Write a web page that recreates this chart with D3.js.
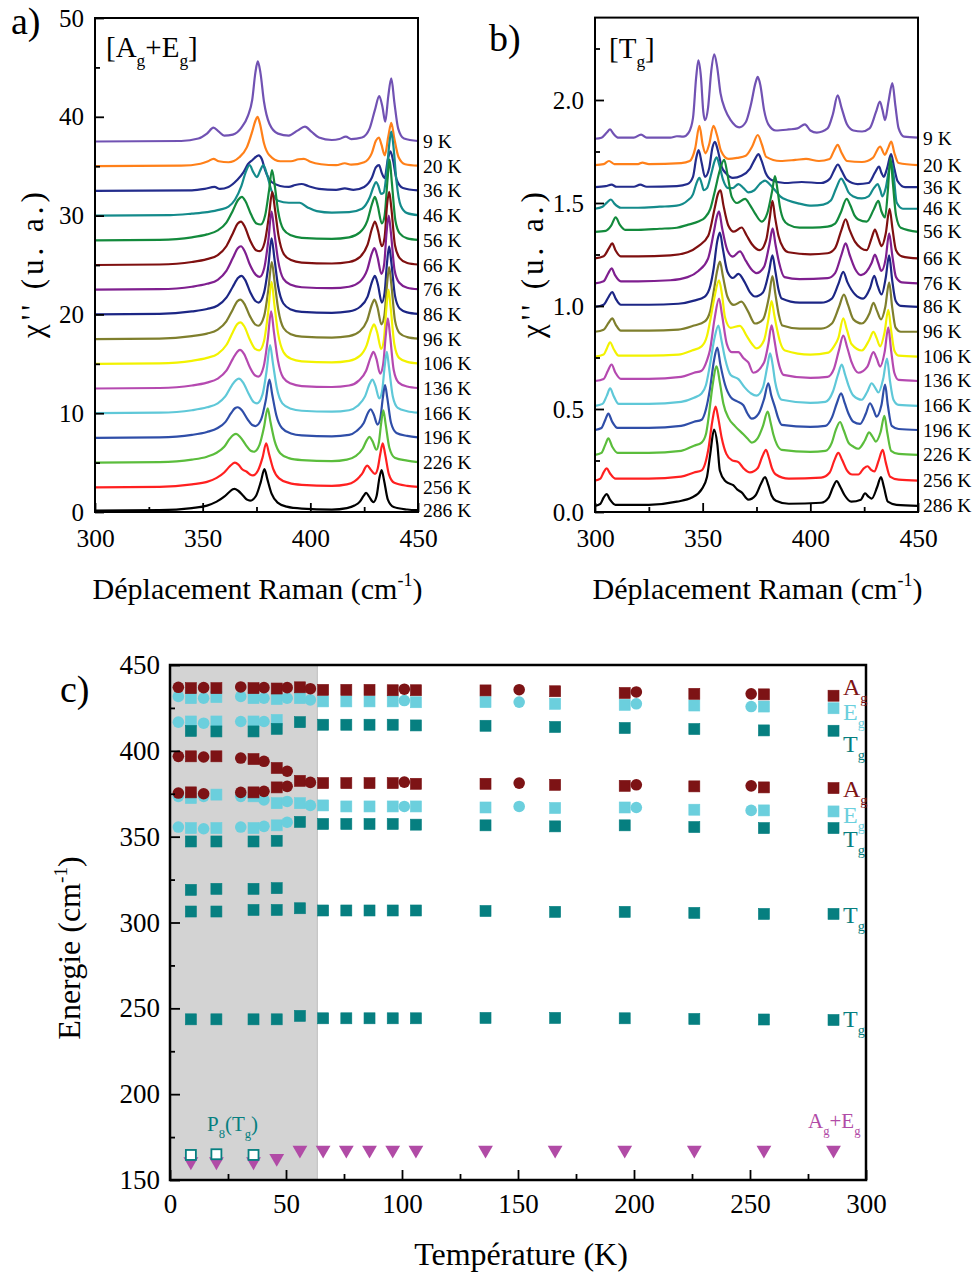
<!DOCTYPE html>
<html><head><meta charset="utf-8">
<script src="https://cdn.jsdelivr.net/npm/d3@7"></script>
<style>body{margin:0;background:#fff}svg{display:block}text{font-family:"Liberation Serif","Times New Roman",serif}</style>
</head><body><svg id="c" width="977" height="1277"></svg>
<script>
// ---------------- DATA ----------------
const tempLabels = ["9 K","20 K","36 K","46 K","56 K","66 K","76 K","86 K","96 K","106 K","136 K","166 K","196 K","226 K","256 K","286 K"];
const curveColors = ["#7152b3","#ff8019","#232c8c","#148b8b","#138a3c","#7f1010","#7f1f8f","#1c2685","#7f7f2d","#f2f200","#b549b0","#5fc8d8","#2f4ea8","#5bbd3c","#ff2020","#000000"];
const offsetsA = [37.5,35,32.5,30,27.5,25,22.5,20,17.5,15,12.5,10,7.5,5,2.5,0.15];
const offsetsB = [1.812,1.684,1.577,1.472,1.36,1.231,1.110,0.996,0.875,0.754,0.636,0.515,0.398,0.277,0.152,0.03];
// spectra: flat lists of (Raman shift, intensity above the curve's offset)
const spectraA = [
[300,0,340,0.05,348,0.3,352,0.8,355,1.4,357.5,1.0,360,0.6,364,0.7,368,1.4,371,2.6,373,4.2,374.5,7.0,375.6,8.1,376.8,7.0,378.5,4.0,381,1.8,385,0.8,390,0.6,394,1.1,397.5,1.5,400.5,1.0,404,0.4,410,0.15,413.5,0.25,416.5,0.5,419,0.25,424,0.4,427.5,1.3,430,3.2,432,4.6,433.5,3.5,434.8,2.0,436.2,4.6,437.6,6.4,439,4.0,440.8,1.3,443.5,0.3,450,0.05],
[300,0,340,0.05,349,0.25,352.5,0.5,355,0.75,357.5,0.5,362,0.4,367,0.9,370.5,1.9,373,3.5,374.5,4.6,375.5,5.0,376.6,4.3,378.5,2.3,381,1.1,386,0.5,391,0.5,394.5,0.7,397,0.75,400,0.45,405,0.2,412,0.1,416,0.3,419,0.15,425,0.4,428.5,1.3,430.5,2.6,431.8,2.9,433,2.2,434.6,1.1,436.2,3.0,437.6,4.4,439,2.8,441,0.9,444,0.2,450,0.05],
[300,0,345,0.05,351,0.2,355.5,0.4,358,0.2,362,0.4,366,1.1,369,1.9,371,2.7,373,3.1,376,3.6,377.5,3.2,379,2.1,382,0.9,386,0.5,390,0.4,393,0.6,396,0.7,399,0.5,404,0.2,412,0.1,416,0.25,420,0.1,425,0.4,428.5,1.3,430.5,2.4,431.9,2.6,433.2,1.8,434.5,1.3,436,3.2,437.2,4.0,438.5,3.0,440,1.2,443,0.3,450,0.05],
[300,0,335,0.05,345,0.2,352,0.35,358,0.6,362,0.9,365,1.6,368,3.0,370,4.4,371.8,5.1,373.5,4.4,375.2,3.9,376.8,4.6,378.2,5.1,379.8,4.2,382,2.5,385,1.5,390,1.3,395,1.3,399,0.8,403,0.45,410,0.3,418,0.35,424,0.7,427.5,1.8,429.5,3.0,430.5,3.4,431.6,3.0,432.8,2.2,434,2.3,435.5,4.5,436.8,7.5,437.6,8.5,438.6,7.0,440,3.5,442,1.0,445,0.25,450,0.05],
[300,0,330,0.05,345,0.3,352,0.6,357,1.0,361,1.8,364,3.0,366.5,4.1,368.2,4.4,370,3.9,372.5,2.6,375,1.7,377,1.6,379,2.5,380.8,5.0,382.2,7.1,383.5,5.5,385,3.0,387.5,1.1,391,0.5,396,0.25,410,0.15,418,0.3,423,0.8,426.5,2.0,428.8,3.8,430,4.4,431.3,3.5,433.2,1.7,434.5,2.5,435.8,6.0,436.8,8.2,437.8,6.0,439.5,2.0,441.5,0.7,445,0.2,450,0.05],
[300,0,330,0.05,345,0.3,352,0.6,357,1.0,361,1.9,364,3.2,366.3,4.2,367.8,4.4,369.5,3.9,372,2.5,374.8,1.5,376.6,1.4,378.8,2.3,380.8,5.0,382.3,7.4,383.6,5.6,385.2,3.0,387.7,1.1,391,0.5,396,0.25,410,0.15,418,0.3,423,0.8,426.5,2.0,428.8,3.8,430,4.4,431.4,3.5,433.2,1.9,434.5,2.8,435.6,6.0,436.6,7.4,437.6,5.8,439.3,2.0,441.5,0.7,445,0.2,450,0.05],
[300,0,330,0.05,345,0.3,352,0.6,357,1.0,361,1.9,364,3.2,366.3,4.2,367.8,4.4,369.5,3.9,372,2.5,374.7,1.5,376.5,1.3,378.6,2.2,380.5,5.0,382,7.9,383.3,5.8,385,3.0,387.5,1.1,391,0.5,396,0.25,410,0.15,418,0.3,423,0.8,426.4,2.0,428.6,3.7,429.8,4.2,431.2,3.3,433,1.6,434.3,2.6,435.4,5.8,436.4,7.5,437.4,5.8,439.1,2.0,441.3,0.7,445,0.2,450,0.05],
[300,0,330,0.05,345,0.3,352,0.55,357,0.9,361,1.7,364,2.8,366.5,3.7,368,3.9,369.7,3.5,372.2,2.2,374.5,1.35,376,1.2,378.5,2.2,380.5,4.9,382,7.7,383.3,5.7,385,2.9,387.5,1.1,391,0.5,396,0.25,410,0.15,418,0.3,423,0.75,426.6,1.8,428.8,3.4,430,3.9,431.4,3.0,433.2,1.2,434.5,2.2,435.6,5.2,436.6,6.9,437.6,5.3,439.3,1.9,441.5,0.6,445,0.2,450,0.05],
[300,0,330,0.05,345,0.3,352,0.55,357,0.95,361,1.8,364,3.0,366,3.8,367.5,4.0,369.3,3.6,372,2.3,374.3,1.5,375.9,1.35,378.5,2.3,380.5,5.0,382.1,7.8,383.4,5.8,385.1,3.0,387.6,1.1,391,0.5,396,0.25,410,0.15,418,0.3,423,0.8,426.4,1.9,428.6,3.5,429.8,4.0,431.2,3.2,433,1.5,434.4,2.4,435.6,5.5,436.6,7.3,437.6,5.6,439.3,1.9,441.5,0.6,445,0.2,450,0.05],
[300,0,330,0.05,345,0.3,352,0.6,357,1.0,361,1.9,364,3.2,366,4.0,367.5,4.2,369.3,3.8,372,2.4,374.4,1.5,376.3,1.35,378.5,2.3,380.4,5.2,382,8.3,383.3,6.0,385,3.1,387.5,1.2,391,0.5,396,0.25,410,0.15,418,0.3,423,0.8,426.2,1.9,428.4,3.5,429.6,4.0,431,3.2,432.9,1.5,434.2,2.5,435.3,5.6,436.3,7.5,437.3,5.7,439,2.0,441.2,0.6,445,0.2,450,0.05],
[300,0,330,0.05,345,0.3,352,0.6,357,1.0,361,1.8,364,3.0,366,3.7,367.3,3.9,369.2,3.5,371.8,2.2,374.2,1.35,375.9,1.2,378.3,2.2,380.2,4.9,381.8,7.8,383.1,5.7,384.9,2.9,387.4,1.1,391,0.5,396,0.25,410,0.15,418,0.3,422.5,0.8,425.9,1.8,428.1,3.2,429.3,3.7,430.7,3.0,432.4,1.5,433.8,2.4,435,5.3,436,7.1,437,5.4,438.7,1.9,441,0.6,445,0.2,450,0.05],
[300,0,330,0.05,345,0.3,352,0.6,357,1.0,360.5,1.7,363.5,2.8,365.5,3.35,366.8,3.5,368.8,3.1,371.3,2.0,373.6,1.15,375.3,1.0,377.8,1.9,379.7,4.3,381.3,6.9,382.6,5.1,384.4,2.6,387,1.0,391,0.45,396,0.25,410,0.15,418,0.3,422,0.75,425.4,1.7,427.6,3.0,428.8,3.4,430.2,2.8,432,1.5,433.3,2.2,434.5,4.7,435.5,6.2,436.5,4.7,438.3,1.7,440.6,0.55,445,0.2,450,0.05],
[300,0,330,0.05,345,0.3,352,0.6,357,1.0,360.5,1.6,363.2,2.5,365,3.0,366.3,3.1,368.2,2.8,370.8,1.9,373,1.3,374.5,1.2,377.2,1.9,379.3,3.8,381,5.9,382.3,4.4,384.2,2.3,386.8,1.0,391,0.45,396,0.25,410,0.15,418,0.3,421.5,0.7,424.8,1.5,426.9,2.6,428,2.9,429.4,2.4,431.2,1.35,432.5,2.0,433.7,4.1,434.7,5.35,435.7,4.1,437.5,1.5,440,0.5,445,0.2,450,0.05],
[300,0,330,0.05,345,0.3,352,0.6,356.5,1.0,360,1.6,362.5,2.4,364.3,2.8,365.5,2.9,367.4,2.6,370,1.8,372.3,1.2,373.8,1.1,376.4,1.8,378.5,3.6,380.2,5.5,381.5,4.1,383.4,2.2,386,0.95,390,0.45,396,0.25,410,0.15,417,0.3,421,0.65,424.3,1.4,426.3,2.3,427.4,2.6,428.8,2.2,430.7,1.3,431.8,2.0,432.9,4.0,433.9,5.3,434.9,4.0,436.7,1.5,439.2,0.5,445,0.2,450,0.05],
[300,0,330,0.05,345,0.3,352,0.55,356.5,0.95,360,1.5,362.5,2.1,364,2.4,365,2.5,366.6,2.3,368.5,1.8,370.3,1.6,372,1.3,373.3,1.2,375.7,1.7,377.8,3.0,379.5,4.45,380.8,3.4,382.7,1.9,385.5,0.9,390,0.45,396,0.25,410,0.15,417,0.3,420.5,0.6,423,1.1,424.4,1.5,425.5,2.0,426.5,2.2,428,1.8,430,1.35,431.3,1.9,432.5,3.4,433.6,4.45,434.7,3.4,436.5,1.3,439,0.45,445,0.15,450,0.05],
[300,0,330,0.03,345,0.25,352,0.5,356.5,0.9,360,1.4,362.5,1.9,364,2.15,364.8,2.2,366.5,2.0,368.8,1.5,370.6,1.1,372,1.0,374.8,1.5,377,2.9,378.7,4.2,380,3.2,382,1.7,384.8,0.8,389,0.4,396,0.2,410,0.1,417,0.25,420.5,0.5,423,0.9,424.8,1.5,425.9,1.8,427.3,1.4,429.3,0.85,430.8,1.5,432,3.2,433.1,4.1,434.2,3.1,436,1.1,438.7,0.35,445,0.1,450,0.03]
];
const spectraB = [
[300,0,303,0.005,305.5,0.03,307,0.045,308.5,0.025,311,0.005,318,0.005,321.4,0.02,324,0.005,335,0.005,338,0.012,341,0.01,343.5,0.03,345.5,0.1,347,0.3,348,0.38,349.2,0.3,350.3,0.13,351.1,0.09,352.5,0.15,354,0.33,355.4,0.41,356.7,0.35,358.3,0.22,360.5,0.14,363,0.09,367,0.055,370,0.08,372.5,0.17,374.5,0.27,375.6,0.3,376.8,0.26,378.5,0.14,380.5,0.07,384,0.04,390,0.045,394,0.05,397.5,0.07,400,0.04,403,0.03,408,0.05,410.5,0.12,412.7,0.21,414.5,0.15,417,0.07,420,0.04,424,0.035,427.5,0.05,430.5,0.13,432.3,0.18,433.5,0.14,434.7,0.09,436.3,0.18,438.1,0.27,439.5,0.16,441,0.05,443.5,0.01,450,0.005],
[300,0,304,0.005,306.5,0.02,309,0.005,320,0.005,322,0.012,325,0.005,340,0.01,344,0.02,346.5,0.08,348.5,0.19,350,0.1,351.3,0.057,353,0.1,355,0.19,356.8,0.14,358.5,0.07,362,0.03,366,0.035,370,0.045,373,0.09,375.6,0.146,377.5,0.1,379.5,0.04,386,0.02,393,0.025,398,0.03,404,0.02,409,0.03,411,0.07,412.7,0.098,414.5,0.06,417,0.02,424,0.015,429,0.035,432.4,0.09,434.6,0.05,436,0.08,437.6,0.114,439,0.06,441,0.01,450,0],
[300,0,305,0.005,307.7,0.012,310,0.002,318,0.002,321,0.012,324,0.002,338,0.005,343,0.015,345.5,0.05,347,0.14,348.1,0.18,349.5,0.12,351.1,0.05,353,0.09,354.5,0.19,355.7,0.22,357,0.18,358.8,0.1,361,0.065,364,0.045,368,0.055,372,0.09,374.5,0.14,375.9,0.16,377.3,0.13,379.2,0.07,382,0.035,388,0.02,396,0.025,405,0.02,409,0.04,411,0.08,412.8,0.11,414.5,0.08,417,0.035,422,0.015,427,0.02,430,0.07,431.9,0.1,433,0.07,434.1,0.05,435.6,0.09,437.5,0.16,439,0.09,440.5,0.03,444,0,450,0],
[300,0,303.5,0.01,305.5,0.03,307.4,0.045,309,0.025,312,0.005,320,0.005,330,0.01,338,0.015,343,0.04,345.5,0.07,347,0.12,348.5,0.15,349.6,0.12,350.5,0.09,352,0.1,354,0.17,355.5,0.23,356.5,0.25,357.8,0.21,359.5,0.14,361.9,0.1,364,0.1,366.6,0.12,369,0.1,371.2,0.08,374,0.09,376.5,0.12,379,0.137,381,0.12,383.6,0.09,386,0.06,389.8,0.04,395,0.025,400.6,0.015,406,0.02,409.5,0.04,412,0.1,414.3,0.146,416,0.12,417.7,0.08,420,0.06,423.9,0.05,427,0.06,429.5,0.1,431.3,0.12,432.5,0.09,433.5,0.06,435,0.1,436.8,0.2,437.8,0.22,438.8,0.15,440.1,0.03,443,0,450,0],
[300,0,305,0.005,307.5,0.03,309.6,0.07,311.5,0.035,314,0.01,320,0.01,330,0.015,338,0.02,343.3,0.035,348,0.05,351.1,0.07,353.5,0.11,355.7,0.2,358,0.3,360,0.35,361.5,0.28,363.5,0.17,366,0.14,369.7,0.16,372,0.13,374.3,0.09,377.4,0.05,380,0.09,382.3,0.2,383.6,0.27,384.8,0.2,385.9,0.12,387.5,0.06,389.8,0.035,395,0.02,401,0.02,408,0.025,411.5,0.04,414,0.09,416.9,0.16,418.5,0.13,420.5,0.08,422.3,0.06,426.2,0.05,429.5,0.11,431.6,0.15,433,0.1,434.7,0.07,436,0.2,437.2,0.36,438.3,0.24,439.8,0.08,442,0.02,450,0],
[300,0,304,0.01,306.5,0.05,308,0.073,309.5,0.04,312,0.01,320,0.01,335,0.015,343,0.03,348,0.06,352.6,0.11,355.7,0.25,357,0.31,358.3,0.33,359.6,0.26,361.9,0.16,364.5,0.13,368.1,0.15,370.5,0.11,372.8,0.07,376.6,0.04,379.5,0.09,381.2,0.2,382.4,0.28,383.6,0.2,385.2,0.11,387.5,0.05,389.8,0.03,400,0.02,408,0.025,411.5,0.05,414.5,0.14,416.4,0.19,418.2,0.14,420.8,0.08,423.5,0.05,426.2,0.04,428.5,0.1,430,0.14,431.5,0.1,433.1,0.06,435,0.12,436.8,0.24,438.2,0.14,439.8,0.04,442.5,0.01,450,0],
[300,0,304,0.01,306.2,0.05,307.7,0.073,309.3,0.04,312,0.01,320,0.01,335,0.015,343,0.03,348,0.06,352.5,0.12,355.2,0.25,356.5,0.32,357.6,0.35,359,0.27,361.5,0.16,364,0.13,367.3,0.155,370,0.11,372.5,0.07,375,0.05,378.5,0.08,381,0.19,382.5,0.267,383.8,0.19,385.5,0.1,388,0.03,395,0.02,408,0.025,411.5,0.05,414.5,0.14,416.4,0.194,418.2,0.14,420.8,0.07,423.5,0.04,428.5,0.1,430,0.14,431.5,0.1,433,0.06,435,0.12,436.6,0.243,438,0.14,439.8,0.03,442.5,0.005,450,0],
[300,0,304,0.01,306.4,0.05,308,0.072,309.6,0.04,312,0.01,325,0.01,338.7,0.015,346,0.03,351,0.05,353.5,0.1,355,0.18,356.8,0.32,358,0.36,359.4,0.28,361.5,0.17,364,0.14,366.6,0.16,369.5,0.12,372,0.07,374.3,0.05,378,0.07,380.8,0.17,382.4,0.25,383.8,0.17,385.3,0.08,386.7,0.04,395,0.02,405,0.02,410,0.04,413,0.11,415.3,0.17,417.2,0.12,420.8,0.06,424.5,0.04,427.7,0.09,429.7,0.15,431.3,0.1,433.1,0.06,435,0.14,436.6,0.25,438,0.13,439.6,0.03,442,0.005,450,0],
[300,0,304,0.01,306.4,0.045,308,0.065,309.6,0.035,312,0.005,325,0.005,338.7,0.01,346,0.03,351,0.05,353.5,0.1,355.2,0.2,356.8,0.3,358,0.34,359.4,0.27,361.5,0.17,364.5,0.13,368,0.146,371,0.1,374.3,0.04,378,0.06,380.8,0.17,382.4,0.27,383.8,0.18,385.4,0.08,387,0.03,395,0.015,405,0.015,410,0.04,413.3,0.12,415.6,0.18,417.5,0.13,420,0.06,423.9,0.04,427.5,0.09,429.3,0.14,431,0.1,432.8,0.06,434.8,0.12,436.6,0.24,438,0.12,439.6,0.02,442,0,450,0],
[300,0,304,0.01,305.5,0.04,307,0.07,308.8,0.035,311,0.005,325,0.005,338.7,0.01,345,0.03,349.5,0.05,352,0.1,353.4,0.17,355.5,0.29,357.6,0.37,359,0.3,360.4,0.19,363,0.14,367.3,0.15,370.5,0.1,373,0.06,375.1,0.04,378.5,0.08,380.5,0.18,382,0.27,383.3,0.2,384.4,0.14,386,0.07,388.2,0.03,400,0.01,408.4,0.02,411,0.05,413,0.09,415.3,0.186,417,0.13,419.2,0.06,423.9,0.03,427.3,0.08,429.3,0.12,430.8,0.09,432.4,0.05,434.5,0.12,436.2,0.227,437.5,0.13,439,0.03,441,0.005,450,0],
[300,0,304,0.01,306,0.05,307.7,0.08,309.5,0.04,312,0.01,325,0.01,340,0.02,346,0.04,349.5,0.05,352,0.1,353.4,0.15,355.5,0.3,357.6,0.4,359,0.32,361.2,0.18,363.5,0.14,366.6,0.14,369,0.11,371.2,0.09,373.5,0.04,378.5,0.09,380.5,0.18,382,0.27,383.3,0.2,384.4,0.13,386,0.06,387.5,0.03,400,0.015,408,0.02,411,0.06,413.3,0.15,415.3,0.22,417.2,0.16,419.2,0.09,422.3,0.04,426.5,0.07,429.3,0.14,430.8,0.11,432.4,0.07,434.5,0.14,436.2,0.26,437.5,0.15,439,0.04,441,0.005,450,0],
[300,0,303.5,0.01,305.5,0.05,307,0.085,308.8,0.045,311,0.01,325,0.01,340,0.02,346,0.04,349.5,0.06,351.5,0.1,353.4,0.2,355.5,0.33,357.3,0.39,358.7,0.32,360.4,0.23,363,0.15,366.6,0.13,369.5,0.09,372.5,0.06,375,0.05,378,0.09,380,0.19,381.3,0.255,382.5,0.2,383.6,0.12,385,0.06,386.7,0.03,400,0.015,407,0.02,410.5,0.07,412.8,0.15,414.6,0.2,416.2,0.15,417.7,0.1,420,0.05,423.9,0.03,426.5,0.07,428.5,0.11,430,0.09,431.6,0.065,433.8,0.13,435.6,0.23,437,0.12,438.6,0.03,441,0.005,450,0],
[300,0,303,0.01,304.8,0.05,306.2,0.08,308,0.04,310.5,0.01,325,0.01,340,0.02,346,0.04,349.5,0.05,351.5,0.1,353.4,0.2,355.3,0.34,356.8,0.4,358.2,0.32,360.4,0.22,363,0.16,365.8,0.14,368.9,0.12,370.8,0.08,372.8,0.055,376,0.08,378.5,0.15,380.5,0.227,381.8,0.17,383.6,0.11,385,0.06,386.7,0.025,400,0.015,407,0.02,410,0.06,412.3,0.13,414.3,0.178,416,0.13,417.7,0.08,420,0.04,423.1,0.03,425.8,0.08,427.7,0.13,429.3,0.1,430.8,0.065,433,0.12,434.7,0.22,436,0.12,437.8,0.02,441,0.005,450,0],
[300,0,303,0.01,304.8,0.05,306.2,0.08,308,0.04,310.5,0.01,325,0.01,340,0.02,346,0.045,349.5,0.06,351.5,0.1,352.6,0.17,354.5,0.33,356.5,0.43,358,0.35,359.6,0.25,362,0.18,365,0.14,368.9,0.1,370.8,0.08,372.8,0.06,375.5,0.08,378,0.14,380.2,0.21,381.5,0.16,382.8,0.1,384.5,0.05,386.7,0.025,400,0.015,407,0.02,410,0.06,411.8,0.12,413.8,0.16,415.5,0.12,417.7,0.06,420,0.04,422.3,0.03,425.3,0.07,427.3,0.11,428.8,0.09,430.4,0.065,432.6,0.11,434.4,0.19,435.7,0.11,437.5,0.02,441,0.005,450,0],
[300,0,302.5,0.01,304,0.04,305.4,0.06,307,0.035,309.5,0.01,325,0.01,340,0.02,346,0.04,349.5,0.05,352.6,0.15,354.5,0.29,356,0.36,357.3,0.3,358.8,0.21,361,0.13,363.5,0.1,366.6,0.09,369,0.06,372,0.04,375.5,0.06,377.8,0.12,379.4,0.15,380.8,0.11,382.2,0.06,384,0.03,390,0.01,405,0.015,409,0.04,411.2,0.1,413,0.135,414.8,0.1,417,0.05,419.5,0.03,422.3,0.03,424.8,0.06,426.6,0.07,428,0.055,429.7,0.045,431.8,0.1,433.6,0.15,435,0.09,437,0.02,441,0.005,450,0],
[300,0,302.5,0.01,304,0.04,305.4,0.057,307,0.03,309.5,0.005,325,0.005,338,0.02,345,0.04,349.5,0.08,352,0.14,353.5,0.25,355.3,0.37,356.8,0.3,358,0.17,360.5,0.12,362,0.11,364.2,0.1,366,0.08,368.1,0.065,371.2,0.03,374.5,0.05,377.2,0.11,379,0.14,380.5,0.1,382,0.05,384,0.025,390,0.01,405,0.015,408.5,0.04,410.5,0.09,412.2,0.12,414,0.09,416,0.05,419,0.02,423.5,0.03,425.4,0.06,427,0.045,428.5,0.035,431,0.09,432.8,0.14,434.2,0.09,436,0.02,440,0.005,450,0]
];
// panel c : [temperature (K), energy (cm-1)]
const agSquares = [[9,436.5],[20,436.5],[36,436.5],[46,436.3],[56,437],[66,435.5],[76,435.5],[86,435.5],[96,435.3],[106,435.3],[136,435.2],[166,434.7],[196,433.7],[226,433.2],[256,432.9],[286,432.1],
 [9,396.8],[20,396.8],[36,395.2],[46,390],[56,382.5],[66,381.2],[76,381.2],[86,381.2],[96,381.2],[106,380.8],[136,380.8],[166,380.2],[196,379.6],[226,379.3],[256,378.7],[286,378.3],
 [9,375.8],[36,375.8],[46,378.7]];
const agCircles = [[3.6,437],[14.5,436.8],[30.5,437.2],[40.5,436.8],[50.5,436.8],[60.5,436.2],[101,435.9],[150.5,435.6],[201,434.3],[250.5,433.2],
 [3.6,396.8],[14.5,396.4],[30.5,395.8],[40.5,393.9],[50.5,388.1],[60.5,381.6],[101,381.8],[150.5,381.2],[201,380.2],[250.5,379.6],
 [3.6,375.4],[14.5,375.0],[30.5,375.8],[40.5,376.4],[50.5,379.3]];
const egSquares = [[9,430.7],[20,431.3],[36,430.7],[46,430.2],[56,430.7],[66,428.8],[76,428.8],[86,428.8],[96,428.8],[106,428.3],[136,428.4],[166,427.4],[196,426.8],[226,426.4],[256,425.8],[286,424.8],
 [9,417.1],[20,417.1],[36,417.1],[46,418],
 [9,372.5],[20,374.5],[36,373.5],[46,369.5],[56,369.5],[66,368.2],[76,367.6],[86,367.6],[96,367.6],[106,367.6],[136,367.0],[166,366.7],[196,367.0],[226,365.7],[256,365.3],[286,364.7],
 [9,355.0],[20,355.0],[36,355.0],[46,356.6]];
const egCircles = [[3.6,431.7],[14.5,430.7],[30.5,431.7],[40.5,430.7],[50.5,430.7],[60.5,429.7],[101,429.3],[150.5,428.4],[201,427.4],[250.5,425.8],
 [3.6,416.7],[14.5,416.1],[30.5,417.1],[40.5,417.1],
 [3.6,373.5],[14.5,373.5],[30.5,373.5],[40.5,371.4],[50.5,370.5],[60.5,368.2],[101,367.6],[150.5,367.6],[201,367.0],[250.5,365.3],
 [3.6,355.6],[14.5,354.6],[30.5,355.6],[40.5,356.0],[50.5,358.4]];
const tgSquares = [[9,411.6],[20,411.3],[36,411.3],[46,412.8],[56,416.7],[66,415.2],[76,415.2],[86,415.2],[96,415.2],[106,414.8],[136,414.6],[166,413.9],[196,413.3],[226,412.7],[256,411.9],[286,411.7],
 [56,358.6],[66,357.4],[76,357.4],[86,357.4],[96,357.4],[106,357.0],[136,356.6],[166,356.0],[196,356.6],[226,355.6],[256,355.0],[286,355.0],
 [9,347.2],[20,347.2],[36,347.2],[46,347.6],
 [9,319.0],[20,319.6],[36,319.6],[46,320],
 [9,306.4],[20,306.4],[36,307.3],[46,307.3],[56,308.3],[66,307],[76,307],[86,307],[96,307],[106,307],[136,306.7],[166,306.2],[196,306.2],[226,305.6],[256,305.0],[286,305.0],
 [9,243.6],[20,243.6],[36,243.6],[46,243.6],[56,245.6],[66,244.2],[76,244.2],[86,244.2],[96,244.2],[106,244.2],[136,244.4],[166,244.4],[196,244.2],[226,243.8],[256,243.5],[286,243.2]];
const p8Open = [[9,164.6],[20,165],[36,164.6]];
const agEgTriangles = [[9,160.7],[20,160.7],[36,160.7],[46,162.7],[56,167.5],[66,167.5],[76,167.5],[86,167.5],[96,167.5],[106,167.5],[136,167.5],[166,167.5],[196,167.5],[226,167.5],[256,167.5],[286,167.5]];
const shadedRange = [0, 63.5];
const ticksA = {ymaj:[0,10,20,30,40,50], ymin:[5,15,25,35,45], xmaj:[300,350,400,450], xmin:[325,375,425]};
const ticksB = {ymaj:[0,0.5,1,1.5,2], ymin:[0.25,0.75,1.25,1.75,2.25]};
const ticksC = {ymaj:[150,200,250,300,350,400,450], ymin:[175,225,275,325,375,425], xmaj:[0,50,100,150,200,250,300], xmin:[25,75,125,175,225,275]};

// ---------------- DRAWING ----------------
const svg = d3.select("#c");
const pairs = a => { const r=[]; for(let i=0;i<a.length;i+=2) r.push([a[i],a[i+1]]); return r; };

function rich(parent, x, y, segs, size, color, anchor, rot) {
  const t = parent.append("text").attr("x",x).attr("y",y).attr("font-size",size)
    .attr("fill",color||"#000").attr("text-anchor",anchor||"start");
  if (rot) t.attr("transform",`rotate(${rot},${x},${y})`);
  let shift = 0;
  segs.forEach(s => {
    const target = s.sub ? size*0.32 : (s.sup ? -size*0.42 : 0);
    const sp = t.append("tspan").text(s.t).attr("dy", target-shift);
    if (s.sub || s.sup) sp.attr("font-size", size*0.6);
    shift = target;
  });
  return t;
}

function drawAxis(g, gen, fontSize) {
  g.call(gen);
  g.select(".domain").remove();
  g.selectAll(".tick line").attr("stroke","#000").attr("stroke-width",1.8);
  g.selectAll("text").attr("font-family",'"Liberation Serif","Times New Roman",serif').attr("font-size",fontSize).attr("fill","#000");
}

function spectraPanel(x0, x1, yDomainMax, yTop, spectra, offsets, ytMaj, ytMin, yFmt) {
  const x = d3.scaleLinear([300,450],[x0,x1]);
  const y = d3.scaleLinear([0,yDomainMax],[512,yTop]);
  const g = svg.append("g");
  const line = d3.line().curve(d3.curveMonotoneX);
  spectra.forEach((s,i) => {
    const off = offsets[i];
    g.append("path").attr("d", line(pairs(s).map(p=>[x(p[0]), y(off+p[1])])))
      .attr("fill","none").attr("stroke",curveColors[i]).attr("stroke-width",2.2).attr("stroke-linejoin","round");
    g.append("text").attr("x",x1+5).attr("y",y(off)+6.5).attr("font-size",19.5).text(tempLabels[i]);
  });
  drawAxis(g.append("g").attr("transform",`translate(${x0},0)`), d3.axisLeft(y).tickValues(ytMaj).tickSize(-9).tickPadding(11).tickFormat(yFmt), 25);
  drawAxis(g.append("g").attr("transform",`translate(${x0},0)`), d3.axisLeft(y).tickValues(ytMin).tickSize(-5).tickFormat(""), 25);
  drawAxis(g.append("g").attr("transform",`translate(0,512)`), d3.axisBottom(x).tickValues(ticksA.xmaj).tickSize(-9).tickPadding(17).tickFormat(d3.format("d")), 25.5);
  drawAxis(g.append("g").attr("transform",`translate(0,512)`), d3.axisBottom(x).tickValues(ticksA.xmin).tickSize(-5).tickFormat(""), 25);
  g.append("rect").attr("x",x0).attr("y",yTop).attr("width",x1-x0).attr("height",512-yTop)
    .attr("fill","none").attr("stroke","#000").attr("stroke-width",2);
  rich(g, (x0+x1)/2+1, 599, [{t:"Déplacement Raman (cm"},{t:"-1",sup:true},{t:")"}], 30, "#000", "middle");
  return g;
}

// panel a
spectraPanel(95, 418, 50, 18, spectraA, offsetsA, ticksA.ymaj, ticksA.ymin, d3.format("d"));
svg.append("text").attr("x",11).attr("y",34).attr("font-size",38).text("a)");
rich(svg, 106, 57, [{t:"[A"},{t:"g",sub:true},{t:"+E"},{t:"g",sub:true},{t:"]"}], 29, "#000");
svg.append("text").attr("x",0).attr("y",0).attr("font-size",31).attr("text-anchor","middle").attr("letter-spacing",4)
  .attr("transform","translate(43,263) rotate(-90)").text("χ'' (u. a.)");

// panel b
spectraPanel(595, 918, 2.4, 17.6, spectraB, offsetsB, ticksB.ymaj, ticksB.ymin, d3.format(".1f"));
svg.append("text").attr("x",489).attr("y",51).attr("font-size",38).text("b)");
rich(svg, 609, 58, [{t:"[T"},{t:"g",sub:true},{t:"]"}], 29, "#000");
svg.append("text").attr("x",0).attr("y",0).attr("font-size",31).attr("text-anchor","middle").attr("letter-spacing",4)
  .attr("transform","translate(543,263) rotate(-90)").text("χ'' (u. a.)");

// panel c
const xC = d3.scaleLinear([0,300],[170,866]);
const yC = d3.scaleLinear([150,450],[1180,665]);
const gc = svg.append("g");
gc.append("rect").attr("x",xC(shadedRange[0])).attr("y",665).attr("width",xC(shadedRange[1])-xC(shadedRange[0])).attr("height",515)
  .attr("fill","#d3d3d3").attr("stroke","#bdbdbd").attr("stroke-width",1);
const RED="#7d1315", CYAN="#6bcfdd", TEAL="#067f80", MAG="#b14ba6";
function squares(data, color, fill, sw) {
  gc.append("g").selectAll("rect").data(data).join("rect")
    .attr("x",d=>xC(d[0])-5.5).attr("y",d=>yC(d[1])-5.5).attr("width",11).attr("height",11)
    .attr("fill",fill||color).attr("stroke",color).attr("stroke-width",sw||0.6);
}
function circles(data, color) {
  gc.append("g").selectAll("circle").data(data).join("circle")
    .attr("cx",d=>xC(d[0])).attr("cy",d=>yC(d[1])).attr("r",5.8).attr("fill",color);
}
const tri = d3.symbol(d3.symbolTriangle, 95)();
gc.append("g").selectAll("path").data(agEgTriangles).join("path").attr("d",tri)
  .attr("transform",d=>`translate(${xC(d[0])},${yC(d[1])}) rotate(180)`).attr("fill",MAG);
squares(egSquares, CYAN); circles(egCircles, CYAN);
squares(agSquares, RED); circles(agCircles, RED);
squares(tgSquares, TEAL);
gc.append("g").selectAll("rect").data(p8Open).join("rect")
  .attr("x",d=>xC(d[0])-5).attr("y",d=>yC(d[1])-5).attr("width",10).attr("height",10)
  .attr("fill","#fff").attr("stroke",TEAL).attr("stroke-width",1.8);

drawAxis(gc.append("g").attr("transform","translate(170,0)"), d3.axisLeft(yC).tickValues(ticksC.ymaj).tickSize(-10).tickPadding(10).tickFormat(d3.format("d")), 27);
drawAxis(gc.append("g").attr("transform","translate(170,0)"), d3.axisLeft(yC).tickValues(ticksC.ymin).tickSize(-5).tickFormat(""), 27);
drawAxis(gc.append("g").attr("transform","translate(0,1180)"), d3.axisBottom(xC).tickValues(ticksC.xmaj).tickSize(-10).tickPadding(14).tickFormat(d3.format("d")), 27);
drawAxis(gc.append("g").attr("transform","translate(0,1180)"), d3.axisBottom(xC).tickValues(ticksC.xmin).tickSize(-6).tickFormat(""), 27);
gc.append("rect").attr("x",170).attr("y",665).attr("width",696).attr("height",515)
  .attr("fill","none").attr("stroke","#000").attr("stroke-width",2.5);

// mode labels
const lab = (x,y,segs,c) => rich(gc, x, y, segs, 24, c, "start");
lab(843,695,[{t:"A"},{t:"g",sub:true}],RED);
lab(843,720,[{t:"E"},{t:"g",sub:true}],CYAN);
lab(843,752,[{t:"T"},{t:"g",sub:true}],TEAL);
lab(843,797,[{t:"A"},{t:"g",sub:true}],RED);
lab(843,823,[{t:"E"},{t:"g",sub:true}],CYAN);
lab(843,847,[{t:"T"},{t:"g",sub:true}],TEAL);
lab(843,923,[{t:"T"},{t:"g",sub:true}],TEAL);
lab(843,1027,[{t:"T"},{t:"g",sub:true}],TEAL);
rich(gc, 808, 1128, [{t:"A"},{t:"g",sub:true},{t:"+E"},{t:"g",sub:true}], 21, MAG, "start");
rich(gc, 207, 1131, [{t:"P"},{t:"8",sub:true},{t:"(T"},{t:"g",sub:true},{t:")"}], 21, TEAL, "start");

svg.append("text").attr("x",60).attr("y",702).attr("font-size",38).text("c)");
rich(svg, 0, 0, [{t:"Energie (cm"},{t:"-1",sup:true},{t:")"}], 32, "#000", "middle")
  .attr("transform","translate(80,948) rotate(-90)");
svg.append("text").attr("x",521).attr("y",1265).attr("font-size",32).attr("text-anchor","middle").text("Température (K)");
</script></body></html>
